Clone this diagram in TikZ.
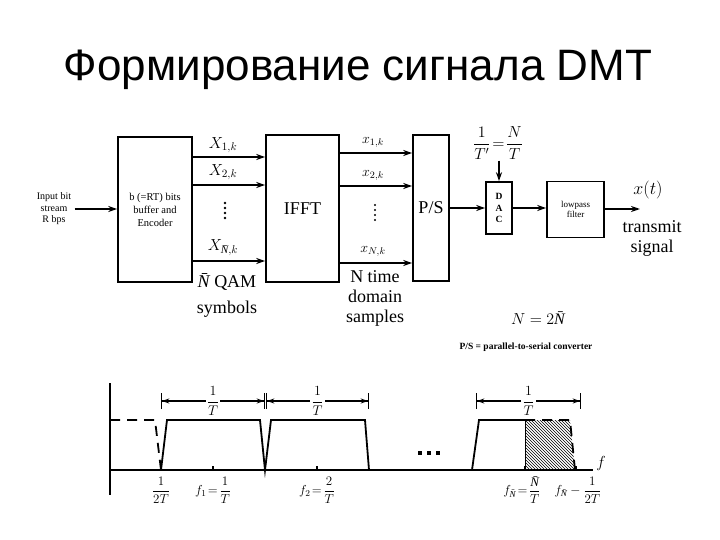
\RequirePackage{fix-cm}
\documentclass[tikz,border=0pt]{standalone}
\usepackage{amsmath}
\usepackage{fontspec}
\setmainfont{Liberation Serif}
\newfontfamily\headfont{Liberation Sans}
\usetikzlibrary{arrows,arrows.meta,patterns,positioning}
\newcommand{\Nbar}{\text{\itshape N̄}}

\begin{document}
\begin{tikzpicture}[x=1pt, y=-1pt,
	box/.style={draw, line width=1.6pt, inner sep=0pt, align=center},
	arr/.style={-{Stealth[length=9pt,width=6pt]}, line width=1.6pt},
	lbl/.style={font=\fontsize{18}{20}\selectfont, align=center},
	sym/.style={font=\fontsize{16}{18}\selectfont, inner sep=1pt},
	dim/.style={line width=1.2pt, {Bar[width=16pt]Stealth[length=7pt,width=5pt]}-{Stealth[length=7pt,width=5pt]Bar[width=16pt]}},
	curve/.style={line width=1.8pt},
	dashcurve/.style={line width=1.8pt, dash pattern=on 10pt off 7pt},
	axlbl/.style={font=\fontsize{13}{15}\selectfont, inner sep=1pt}
]
	\useasboundingbox (0,0) rectangle (720,540);
	\fill[white] (0,0) rectangle (720,540);

	\node[font=\headfont\fontsize{44}{48}\selectfont] (title) at (358,70)
		{Формирование сигнала DMT};

	% transmitter chain
	\node[font=\fontsize{10}{11.5}\selectfont, align=center] (inp) at (54,209)
		{Input bit\\stream\\R bps};
	\node[box, minimum width=74pt, minimum height=145pt,
		font=\fontsize{10.5}{13}\selectfont] (enc) at (155,209.5)
		{b (=RT) bits\\buffer and\\Encoder};
	\node[box, minimum width=73pt, minimum height=147pt, lbl] (ifft) at (302.5,208.5) {IFFT};
	\node[box, minimum width=36pt, minimum height=146pt, lbl] (ps) at (431,208) {P/S};
	\node[box, minimum width=26pt, minimum height=52pt,
		font=\bfseries\fontsize{9.5}{11.5}\selectfont] (dac) at (499,208) {D\\A\\C};
	\node[box, minimum width=57pt, minimum height=56pt,
		font=\fontsize{9}{10}\selectfont] (lpf) at (575.5,209.5) {lowpass\\filter};
	\coordinate (out) at (640,209);

	\draw[arr] (inp.east) -- (enc.west |- inp.east);
	\draw[arr] (enc.east |- 0,157) -- (ifft.west |- 0,157);
	\draw[arr] (enc.east |- 0,185) -- (ifft.west |- 0,185);
	\draw[arr] (enc.east |- 0,261) -- (ifft.west |- 0,261);
	\node[sym] (X1) at (223,145) {$X_{1,k}$};
	\node[sym] (X2) at (223,172) {$X_{2,k}$};
	\node[sym] (XN) at (223,248) {$X_{\Nbar,k}$};
	\foreach \d in {203,208,213,218}
		\fill (225,\d) circle (1.3pt);

	\draw[arr] (ifft.east |- 0,153) -- (ps.west |- 0,153);
	\draw[arr] (ifft.east |- 0,186) -- (ps.west |- 0,186);
	\draw[arr] (ifft.east |- 0,263) -- (ps.west |- 0,263);
	\node[sym, font=\fontsize{14}{16}\selectfont] (x1) at (373,142) {$x_{1,k}$};
	\node[sym, font=\fontsize{14}{16}\selectfont] (x2) at (373,175) {$x_{2,k}$};
	\node[sym, font=\fontsize{14}{16}\selectfont] (xN) at (373,251) {$x_{N,k}$};
	\foreach \d in {205,210,215,220}
		\fill (375,\d) circle (1.1pt);

	\draw[arr] (ps.east |- dac.west) -- (dac.west);
	\draw[arr] (dac.east) -- (lpf.west |- dac.east);
	\draw[arr] (lpf.east |- out) -- (out);

	\node[sym] (rate) at (498,143) {$\dfrac{1}{T'}\!=\!\dfrac{N}{T}$};
	\draw[arr] (rate.south -| dac.north) -- (dac.north);

	\node[lbl] (qam) at (227,282) {\itshape N̄\upshape\ QAM};
	\node[lbl] (symb) at (227,309) {symbols};
	\node[lbl] (samp) at (375,298) {N time\\domain\\samples};
	\node[sym, font=\fontsize{18}{20}\selectfont] (xt) at (648,190) {$x(t)$};
	\node[lbl] (tx) at (652,238) {transmit\\signal};
	\node[sym] (NN) at (538,318) {$N=2\Nbar$};
	\node[font=\bfseries\fontsize{9.5}{11}\selectfont] (note) at (526,347)
		{P/S = parallel-to-serial converter};

	% spectrum
	\draw[curve] (110,383) -- (110,495);
	\draw[curve] (110,470) -- (593,470);
	\node[font=\fontsize{16}{18}\selectfont] (f) at (601,463) {$f$};
	\foreach \t in {161,213,317,525,576}
		\draw[line width=1.2pt] (\t,470) -- (\t,466);

	\draw[dashcurve] (110,420) -- (155,420) -- (161,470);
	\draw[curve] (161,470) -- (167,420) -- (260,420) -- (265,470)
		-- (271,420) -- (365,420) -- (369,470);
	\foreach \d in {418,427,436}
		\fill (\d,455) rectangle +(4,-4);
	\fill[pattern=north west lines] (525,420) -- (570,420) -- (575,470) -- (525,470) -- cycle;
	\draw[curve] (472,470) -- (479,420) -- (525,420);
	\draw[dashcurve] (525,420) -- (570,420) -- (575,470);
	\draw[line width=1pt] (525,420) -- (525,470);

	\draw[dim] (161,401) -- node[fill=white, axlbl, font=\fontsize{14}{16}\selectfont] (w1) {$\dfrac{1}{T}$} (265,401);
	\draw[dim] (266,401) -- node[fill=white, axlbl, font=\fontsize{14}{16}\selectfont] (w2) {$\dfrac{1}{T}$} (369,401);
	\draw[dim] (476,401) -- node[fill=white, axlbl, font=\fontsize{14}{16}\selectfont] (w3) {$\dfrac{1}{T}$} (581,401);

	\node[axlbl] (l0) at (161,490) {$\dfrac{1}{2T}$};
	\node[axlbl] (l1) at (213,490) {$f_1\!=\!\dfrac{1}{T}$};
	\node[axlbl] (l2) at (317,490) {$f_2\!=\!\dfrac{2}{T}$};
	\node[axlbl] (lN) at (522,490) {$f_{\Nbar}\!=\!\dfrac{\Nbar}{T}$};
	\node[axlbl] (lE) at (578,490) {$f_{\Nbar}-\dfrac{1}{2T}$};
\end{tikzpicture}
\end{document}
